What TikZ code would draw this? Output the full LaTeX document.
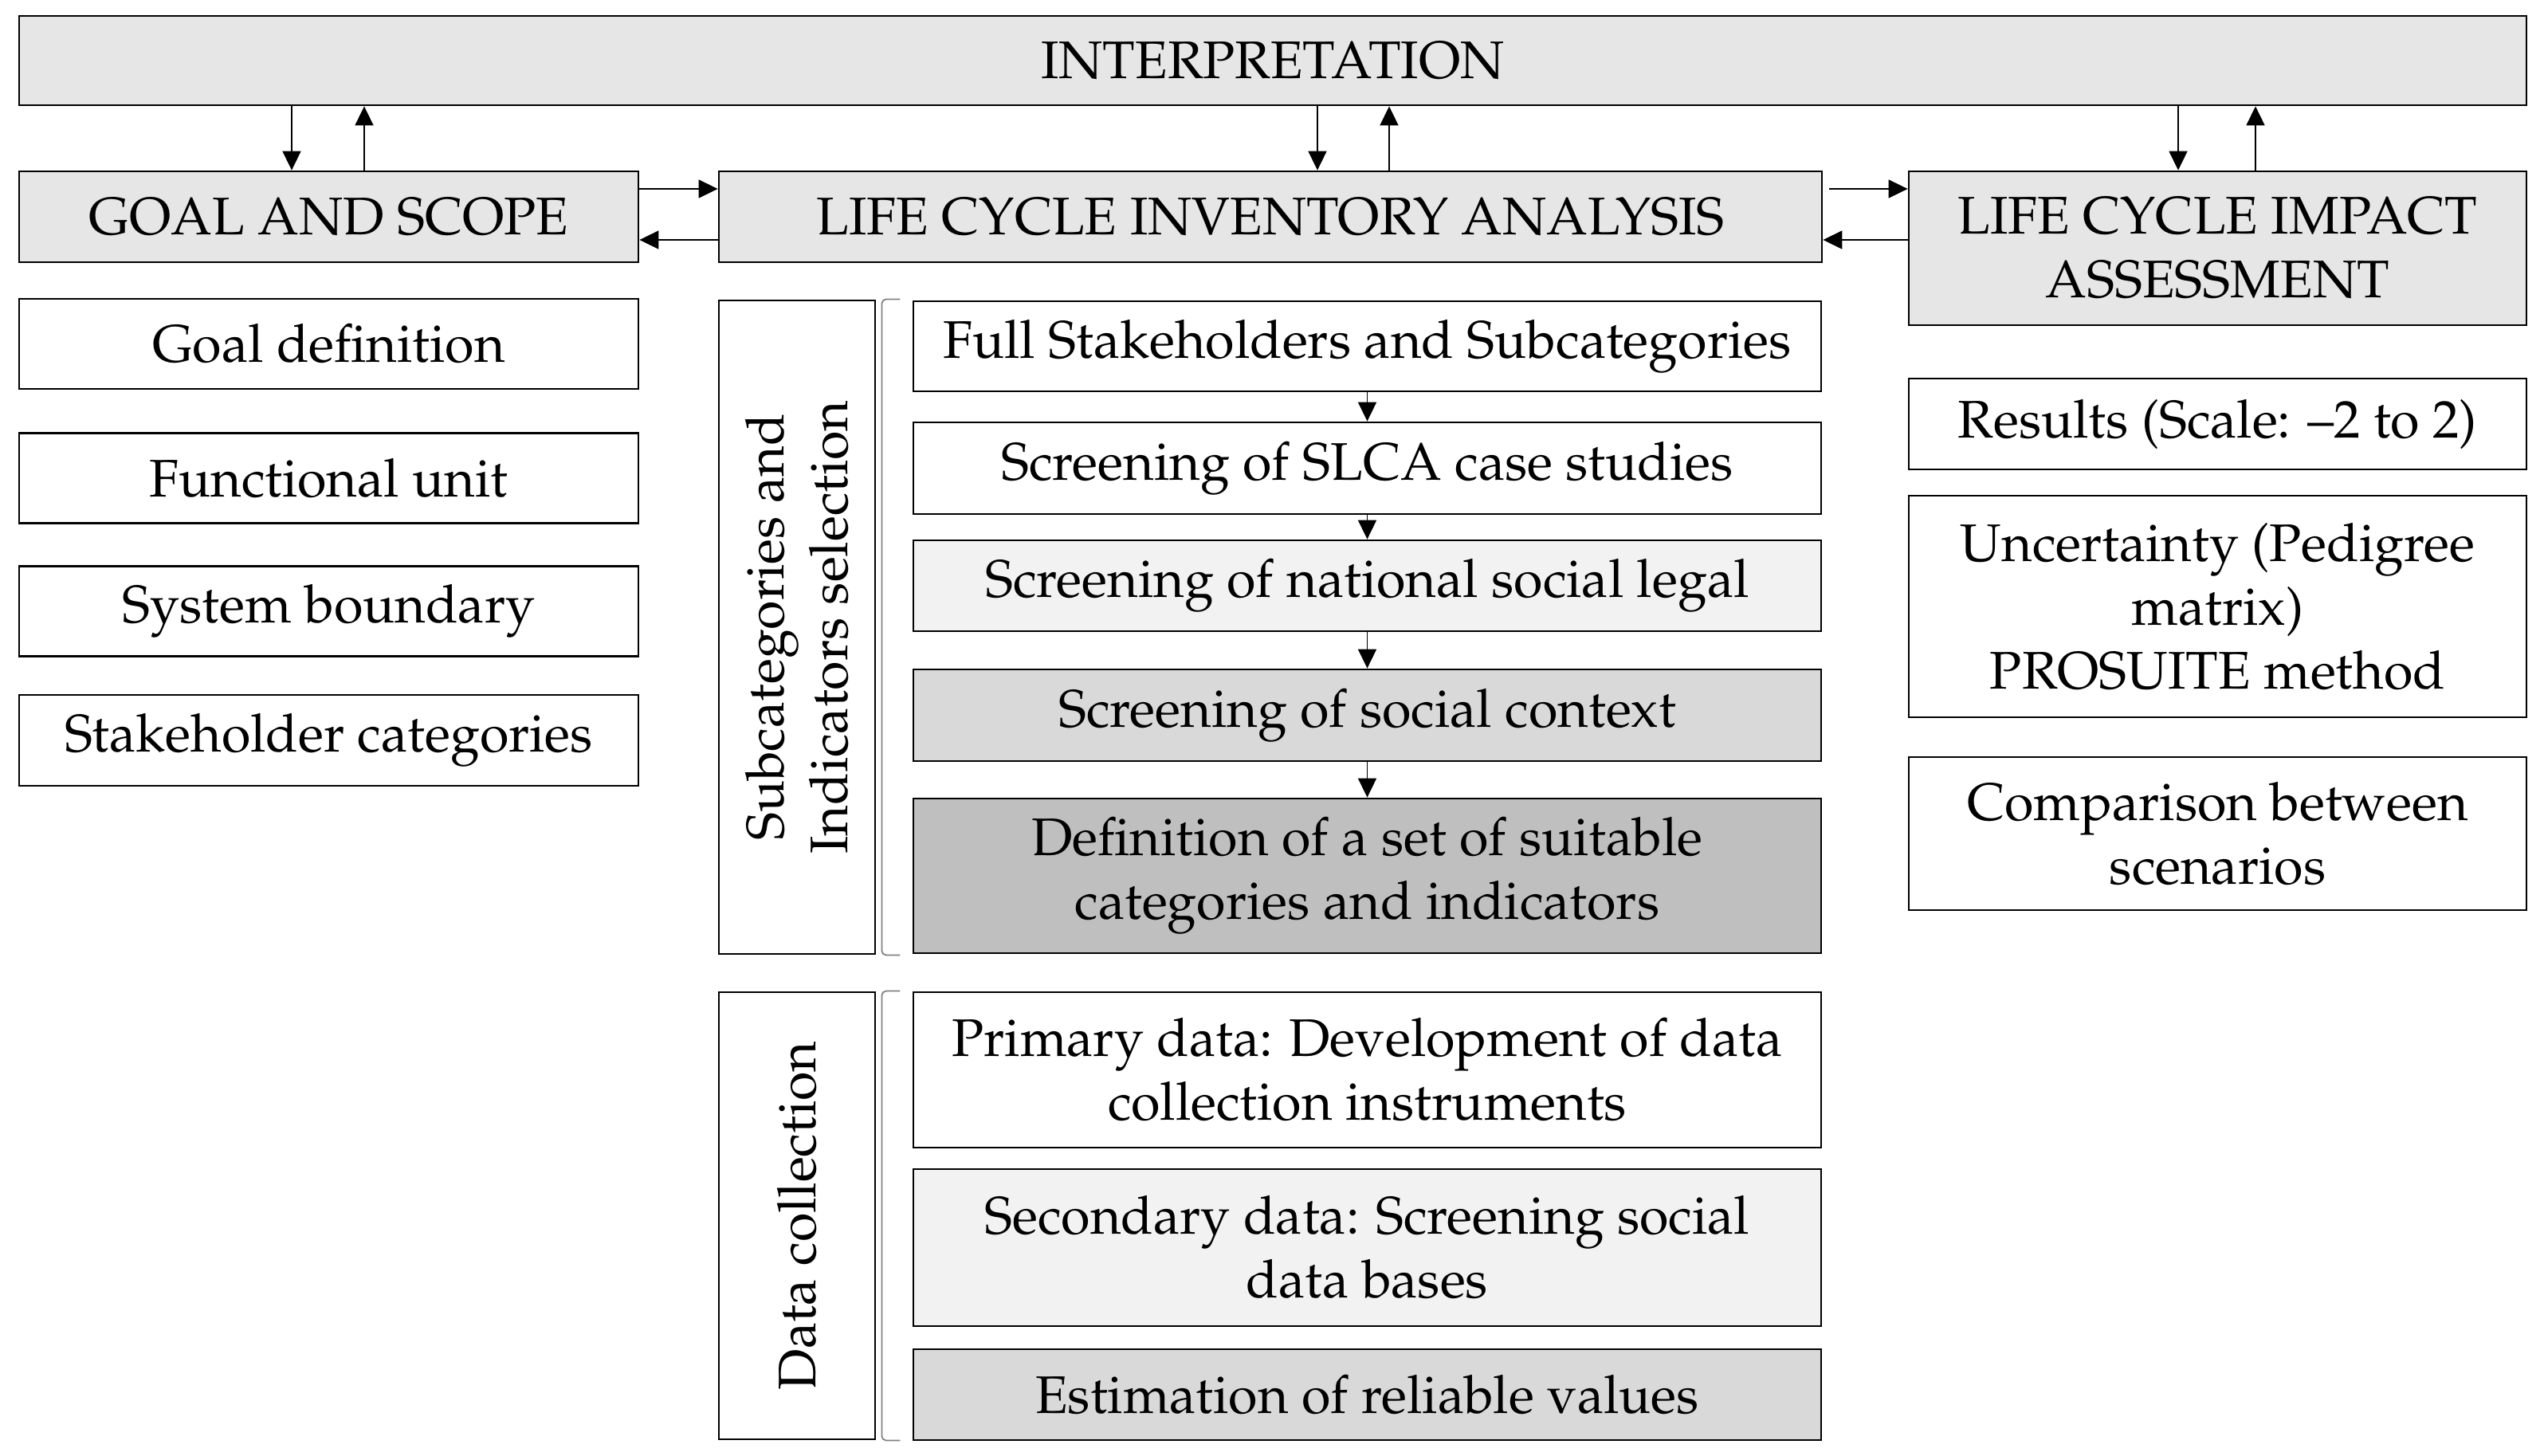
\documentclass[tikz,border=0pt]{standalone}
\usepackage[T1]{fontenc}
\usepackage{mathpazo}
\usetikzlibrary{arrows.meta}
\definecolor{phasegray}{HTML}{E6E6E6}
\definecolor{lightgray}{HTML}{F2F2F2}
\definecolor{midgray}{HTML}{D9D9D9}
\definecolor{darkgray}{HTML}{BFBFBF}
\newcommand{\lcafont}{\fontsize{18.9}{22.8}\selectfont}
\tikzset{
	phase/.style={draw, line width=0.8pt, fill=phasegray, inner sep=0pt, align=center, font=\lcafont},
	item/.style={draw, line width=0.8pt, fill=white, inner sep=0pt, align=center, font=\lcafont},
	link/.style={line width=0.5pt, -{Triangle[length=0.24cm,width=0.23cm]}},
	bracket/.style={draw=gray, line width=0.5pt, rounded corners=1.5pt},
}

\begin{document}
\begin{tikzpicture}
	\useasboundingbox (0,0) rectangle (31.92,-18.27);
	\node[phase, minimum width=31.46cm, minimum height=1.12cm] (interp) at (15.97,-0.76) {INTERPRETATION};
	\node[phase, minimum width=7.77cm, minimum height=1.14cm] (goal) at (4.125,-2.72) {GOAL AND SCOPE};
	\node[phase, minimum width=13.84cm, minimum height=1.14cm] (lci) at (15.94,-2.72) {LIFE CYCLE INVENTORY ANALYSIS};
	\node[phase, minimum width=7.75cm, minimum height=1.93cm] (lcia) at (27.825,-3.115) {LIFE CYCLE IMPACT\\ASSESSMENT};
	\node[item, minimum width=7.77cm, minimum height=1.13cm] (gdef) at (4.125,-4.315) {Goal definition};
	\node[item, minimum width=7.77cm, minimum height=1.13cm] (funit) at (4.125,-6.0) {Functional unit};
	\node[item, minimum width=7.77cm, minimum height=1.13cm] (sysb) at (4.125,-7.67) {System boundary};
	\node[item, minimum width=7.77cm, minimum height=1.14cm] (stake) at (4.125,-9.29) {Stakeholder categories};
	\node[item, minimum width=1.96cm, minimum height=8.2cm] (subcat) at (10.0,-7.87) {};
	\node[rotate=90, align=center, font=\lcafont] (subcattxt) at (subcat) {Subcategories and\\Indicators selection};
	\node[item, minimum width=11.39cm, minimum height=1.13cm] (full) at (17.155,-4.345) {Full Stakeholders and Subcategories};
	\node[item, minimum width=11.39cm, minimum height=1.15cm] (slca) at (17.155,-5.875) {Screening of SLCA case studies};
	\node[item, fill=lightgray, minimum width=11.39cm, minimum height=1.14cm] (natl) at (17.155,-7.35) {Screening of national social legal};
	\node[item, fill=midgray, minimum width=11.39cm, minimum height=1.15cm] (soc) at (17.155,-8.975) {Screening of social context};
	\node[item, fill=darkgray, minimum width=11.39cm, minimum height=1.94cm] (defn) at (17.155,-10.99) {Definition of a set of suitable\\categories and indicators};
	\node[item, minimum width=1.96cm, minimum height=5.61cm] (datac) at (10.0,-15.255) {};
	\node[rotate=90, font=\lcafont] (datactxt) at (datac) {Data collection};
	\node[item, minimum width=11.39cm, minimum height=1.95cm] (prim) at (17.155,-13.425) {Primary data: Development of data\\collection instruments};
	\node[item, fill=lightgray, minimum width=11.39cm, minimum height=1.97cm] (sec) at (17.155,-15.655) {Secondary data: Screening social\\data bases};
	\node[item, fill=midgray, minimum width=11.39cm, minimum height=1.14cm] (est) at (17.155,-17.5) {Estimation of reliable values};
	\node[item, minimum width=7.75cm, minimum height=1.14cm] (res) at (27.825,-5.32) {Results (Scale: --2 to 2)};
	\node[item, minimum width=7.75cm, minimum height=2.78cm] (unc) at (27.825,-7.61) {Uncertainty (Pedigree\\matrix)\\PROSUITE method};
	\node[item, minimum width=7.75cm, minimum height=1.92cm] (comp) at (27.825,-10.46) {Comparison between\\scenarios};
	\draw[link] ([xshift=-0.465cm]goal.north |- interp.south) -- ([xshift=-0.465cm]goal.north);
	\draw[link] ([xshift=0.445cm]goal.north) -- ([xshift=0.445cm]goal.north |- interp.south);
	\draw[link] ([xshift=0.59cm]lci.north |- interp.south) -- ([xshift=0.59cm]lci.north);
	\draw[link] ([xshift=1.49cm]lci.north) -- ([xshift=1.49cm]lci.north |- interp.south);
	\draw[link] ([xshift=-0.495cm]lcia.north |- interp.south) -- ([xshift=-0.495cm]lcia.north);
	\draw[link] ([xshift=0.475cm]lcia.north) -- ([xshift=0.475cm]lcia.north |- interp.south);
	\draw[link] ([yshift=0.35cm]goal.east) -- ([yshift=0.35cm]goal.east -| lci.west);
	\draw[link] ([yshift=-0.29cm]goal.east -| lci.west) -- ([yshift=-0.29cm]goal.east);
	\draw[link, shorten <=0.08cm] ([yshift=0.35cm]lci.east) -- ([yshift=0.35cm]lci.east -| lcia.west);
	\draw[link] ([yshift=-0.29cm]lci.east -| lcia.west) -- ([yshift=-0.29cm]lci.east);
	\foreach \a/\b in {full/slca, slca/natl, natl/soc, soc/defn}
		\draw[link] (\a) -- (\b);
	\draw[bracket] ([xshift=0.3cm]subcat.north east) -- ([xshift=0.07cm]subcat.north east) -- ([xshift=0.07cm]subcat.south east) -- ([xshift=0.3cm]subcat.south east);
	\draw[bracket] ([xshift=0.3cm]datac.north east) -- ([xshift=0.07cm]datac.north east) -- ([xshift=0.07cm]datac.south east) -- ([xshift=0.3cm]datac.south east);
\end{tikzpicture}
\end{document}
